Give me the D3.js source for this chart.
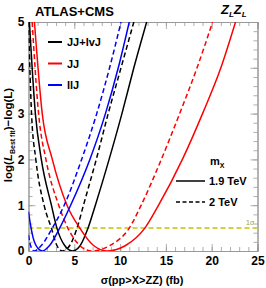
<!DOCTYPE html>
<html><head><meta charset="utf-8">
<script src="https://cdn.jsdelivr.net/npm/d3@7"></script>
<style>body{margin:0;background:#fff}svg{display:block}text{font-family:"Liberation Sans",Arial,sans-serif}</style>
</head><body>
<svg id="c" width="266" height="288"></svg>
<script>
// ---- data ----
const xTicks = [0, 5, 10, 15, 20, 25];
const yTicks = [0, 1, 2, 3, 4, 5];
const sigmaLine = 0.5;
// [sigma, log(Lbest)-log(L)]
const jjlvj19 = [[0.1,5],[0.75,3],[1.4,2],[2.5,1],[3.1,0.5],[3.95,0.12],[4.8,0],[5.65,0.12],[6.5,0.5],[7.3,1],[8.8,2],[10.2,3],[11.5,4],[12.9,5]];
const jjlvj20 = [[0.0,5],[0.33,3],[0.8,2],[1.7,1],[2.5,0.5],[3.1,0.12],[3.7,0],[4.5,0.12],[5.3,0.5],[6.0,1],[7.4,2],[8.7,3],[10.1,4],[11.5,5]];
const jj19 = [[0.65,5],[1.5,3],[2.6,2],[4.2,1],[5.6,0.5],[7.1,0.12],[8.6,0],[10.6,0.12],[12.7,0.5],[14.2,1],[16.8,2],[19.0,3],[21.0,4],[22.6,5]];
const jj20 = [[0.4,5],[1.1,3],[1.9,2],[3.3,1],[4.3,0.5],[5.6,0.12],[6.9,0],[8.9,0.12],[11.0,0.5],[12.3,1],[14.5,2],[16.5,3],[18.4,4],[20.1,5]];
const llj19 = [[0,0.86],[0.22,0.57],[0.48,0.31],[1.03,0.06],[1.5,0],[2.3,0.12],[3.4,0.5],[4.6,1],[6.7,2],[8.4,3],[9.8,4],[11.0,5]];
const llj20 = [[0,0.35],[0.15,0.18],[0.35,0.05],[0.6,0],[1.4,0.12],[2.6,0.5],[3.9,1],[5.8,2],[7.45,3],[8.85,4],[10.1,5]];
const channels = ["JJ+lvJ", "JJ", "llJ"];
const channelColors = ["#000000", "#ff0000", "#0000ff"];
const masses = ["1.9 TeV", "2 TeV"];

const series = [
  {data: jjlvj19, ch: 0, m: 0}, {data: jjlvj20, ch: 0, m: 1},
  {data: jj19, ch: 1, m: 0}, {data: jj20, ch: 1, m: 1},
  {data: llj19, ch: 2, m: 0}, {data: llj20, ch: 2, m: 1}
];

const svg = d3.select("#c");
const L = 28.5, R = 257.5, T = 22, B = 251;
const x = d3.scaleLinear().domain([0, 25]).range([L, R]);
const y = d3.scaleLinear().domain([0, 5]).range([B, T]);
const frameCol = "#999";

svg.append("clipPath").attr("id","clip").append("rect")
  .attr("x", L).attr("y", T).attr("width", R-L).attr("height", B-T);

// frame with ticks on all sides
const gx = svg.append("g").attr("transform", `translate(0,${B})`)
  .call(d3.axisBottom(x).tickValues(d3.range(0, 25.01, 1)).tickSize(-4).tickFormat(""));
const gxMaj = svg.append("g").attr("transform", `translate(0,${B})`)
  .call(d3.axisBottom(x).tickValues(xTicks).tickSize(-7).tickPadding(5).tickFormat(d3.format("d")));
const gxTop = svg.append("g").attr("transform", `translate(0,${T})`)
  .call(d3.axisTop(x).tickValues(d3.range(0, 25.01, 1)).tickSize(-4).tickFormat(""));
const gxTopMaj = svg.append("g").attr("transform", `translate(0,${T})`)
  .call(d3.axisTop(x).tickValues(xTicks).tickSize(-7).tickFormat(""));
const gy = svg.append("g").attr("transform", `translate(${L},0)`)
  .call(d3.axisLeft(y).tickValues(d3.range(0, 5.01, 0.2)).tickSize(-4).tickFormat(""));
const gyMaj = svg.append("g").attr("transform", `translate(${L},0)`)
  .call(d3.axisLeft(y).tickValues(yTicks).tickSize(-7).tickPadding(4).tickFormat(d3.format("d")));
const gyR = svg.append("g").attr("transform", `translate(${R},0)`)
  .call(d3.axisRight(y).tickValues(d3.range(0, 5.01, 0.2)).tickSize(-4).tickFormat(""));
const gyRMaj = svg.append("g").attr("transform", `translate(${R},0)`)
  .call(d3.axisRight(y).tickValues(yTicks).tickSize(-7).tickFormat(""));
[gx,gxMaj,gxTop,gxTopMaj,gy,gyMaj,gyR,gyRMaj].forEach(g => {
  g.selectAll(".domain").attr("stroke", frameCol).attr("stroke-width", 1);
  g.selectAll(".tick line").attr("stroke", frameCol).attr("stroke-width", 0.8);
  g.selectAll(".tick text").attr("fill", "#000").attr("font-size", 12).attr("font-weight", "bold")
    .attr("font-family", "Liberation Sans, Arial, sans-serif");
});

// 1 sigma line
svg.append("line").attr("x1", L).attr("x2", R).attr("y1", y(sigmaLine)).attr("y2", y(sigmaLine))
  .attr("stroke", "#c8c400").attr("stroke-width", 1.5).attr("stroke-dasharray", "5,3");
svg.append("text").attr("x", x(24.2)).attr("y", y(sigmaLine) - 3).attr("text-anchor", "middle")
  .attr("font-size", 7).attr("fill", "#9a9a40").text("1σ");

// curves
const line = d3.line().x(d => x(d[0])).y(d => y(d[1])).curve(d3.curveMonotoneX);
svg.append("g").attr("clip-path", "url(#clip)").selectAll("path").data(series).join("path")
  .attr("d", d => line(d.data)).attr("fill", "none")
  .attr("stroke", d => channelColors[d.ch]).attr("stroke-width", 1.5)
  .attr("stroke-dasharray", d => d.m === 1 ? "5,3" : null);

// titles
svg.append("text").attr("x", 35).attr("y", 16).attr("font-size", 13).attr("font-weight", "bold").text("ATLAS+CMS");
const zt = svg.append("text").attr("x", 221).attr("y", 14).attr("font-size", 13).attr("font-weight", "bold").attr("font-style", "italic");
zt.append("tspan").text("Z");
zt.append("tspan").attr("font-size", 8).attr("dy", 3).text("L");
zt.append("tspan").attr("dy", -3).text("Z");
zt.append("tspan").attr("font-size", 8).attr("dy", 3).text("L");

// axis labels
svg.append("text").attr("x", 142).attr("y", 284).attr("text-anchor", "middle")
  .attr("font-size", 11).attr("font-weight", "bold").text("σ(pp>X>ZZ) (fb)");
const yl = svg.append("text").attr("transform", "translate(12,135) rotate(-90)").attr("text-anchor", "middle")
  .attr("font-size", 11.5).attr("font-weight", "bold");
yl.append("tspan").text("log(");
yl.append("tspan").attr("font-style", "italic").text("L");
yl.append("tspan").attr("font-size", 7).attr("dy", 3).text("Best fit");
yl.append("tspan").attr("dy", -3).text(")−log(L)");

// channel legend
const leg = svg.append("g");
channels.forEach((c, i) => {
  const yy = 42 + i * 21.5;
  leg.append("line").attr("x1", 48).attr("x2", 62).attr("y1", yy).attr("y2", yy)
    .attr("stroke", channelColors[i]).attr("stroke-width", 2);
  leg.append("text").attr("x", 67).attr("y", yy + 4).attr("font-size", 11).attr("font-weight", "bold").text(c);
});

// mass legend
const mt = svg.append("text").attr("x", 210).attr("y", 165).attr("font-size", 11).attr("font-weight", "bold");
mt.append("tspan").text("m");
mt.append("tspan").attr("font-size", 7).attr("dy", 3).text("X");
masses.forEach((m, i) => {
  const yy = 181 + i * 21;
  leg.append("line").attr("x1", 176).attr("x2", 205).attr("y1", yy).attr("y2", yy)
    .attr("stroke", "#000").attr("stroke-width", 1.5).attr("stroke-dasharray", i === 1 ? "4,2.5" : null);
  leg.append("text").attr("x", 209).attr("y", yy + 4).attr("font-size", 11).attr("font-weight", "bold").text(m);
});
</script>
</body></html>
